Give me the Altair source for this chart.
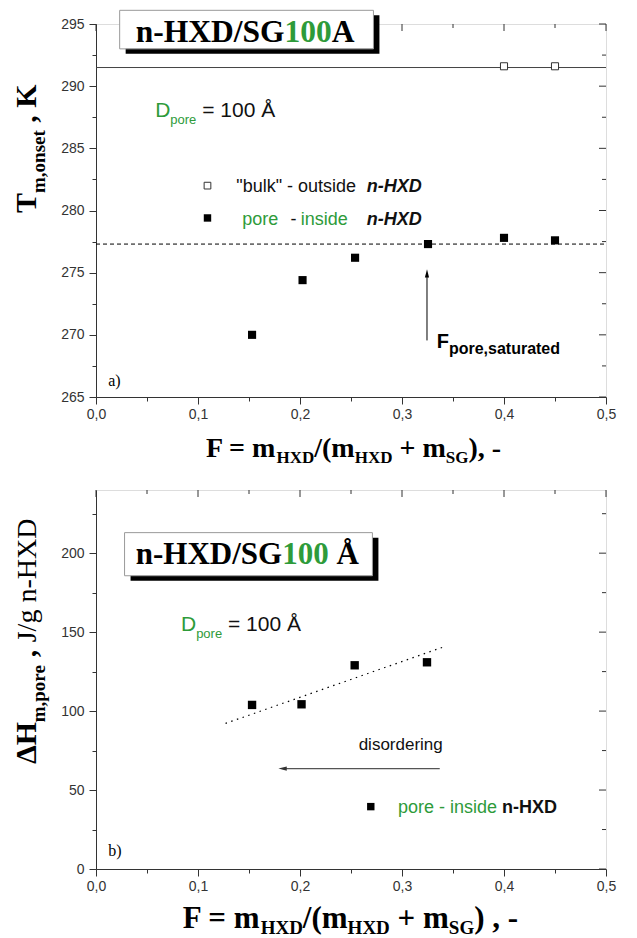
import altair as alt
import pandas as pd

# ---------------- data ----------------
# panel a) : melting-onset temperature vs filling fraction F
a_pore_F = [0.153, 0.2025, 0.254, 0.3255, 0.400, 0.450]
a_pore_T = [270.0, 274.4, 276.2, 277.3, 277.8, 277.6]
a_bulk_F = [0.400, 0.450]
a_bulk_T = [291.6, 291.6]
a_bulk_level = 291.5
a_sat_level = 277.3
a_sat_F = 0.3245
a_arrow_T = [269.55, 275.27]

# panel b) : melting enthalpy in pores vs filling fraction F
b_pore_F = [0.153, 0.2015, 0.2536, 0.3245]
b_pore_H = [103.9, 104.3, 129.0, 130.9]
b_trend_F = [0.127, 0.342]
b_trend_H = [92.2, 140.9]
b_arrow_F = [0.337, 0.179]
b_arrow_H = 63.6

# axes
x_major = [0.0, 0.1, 0.2, 0.3, 0.4, 0.5]
x_minor = [0.05, 0.15, 0.25, 0.35, 0.45]
a_y_major = [265, 270, 275, 280, 285, 290, 295]
a_y_minor = [267.5, 272.5, 277.5, 282.5, 287.5, 292.5]
b_y_major = [0, 50, 100, 150, 200]
b_y_minor = [25, 75, 125, 175, 225]
x_domain = [0, 0.5]
a_domain = [265, 295]
b_domain = [0, 240]

# ---------------- styling ----------------
SERIF = "Liberation Serif"
SANS = "Liberation Sans"
GREEN = "#2e9b3a"
INK = "#111111"
AXC = "#333333"
W, HA, HB = 510, 373, 379

TB = {' ': 250, '!': 333, '(': 333, ')': 333, '+': 570, ',': 250, '-': 333, '/': 278,
      '0': 500, '1': 500, '=': 570, 'A': 722, 'D': 722, 'F': 611, 'G': 778, 'H': 778,
      'J': 500, 'K': 778, 'S': 556, 'T': 667, 'X': 722, 'a': 500, 'd': 556, 'e': 444,
      'g': 500, 'm': 833, 'n': 556, 'o': 500, 'p': 556, 'r': 444, 's': 389, 't': 333,
      'u': 556, 'Å': 722, 'Δ': 612}
TR = {' ': 250, '/': 278, 'J': 389, 'g': 500, 'n': 500, '-': 333, 'H': 722, 'X': 722,
      'D': 722, 'a': 444, 'b': 500, ')': 333}
AR = {' ': 278, '"': 355, '-': 333, '=': 584, '0': 556, '1': 556, 'D': 722, 'Å': 667,
      'b': 556, 'd': 556, 'e': 556, 'g': 556, 'i': 222, 'k': 500, 'l': 222, 'n': 556,
      'o': 556, 'p': 556, 'r': 333, 's': 500, 't': 278, 'u': 556}
AB = {' ': 278, ',': 278, '-': 333, 'D': 722, 'F': 611, 'H': 722, 'X': 667, 'a': 556,
      'd': 611, 'e': 556, 'n': 611, 'o': 611, 'p': 611, 'r': 389, 's': 556, 't': 333,
      'u': 611}
FAM = {"TB": (SERIF, "bold", "normal", TB), "TR": (SERIF, "normal", "normal", TR),
       "AR": (SANS, "normal", "normal", AR), "AB": (SANS, "bold", "normal", AB),
       "ABI": (SANS, "bold", "italic", AB)}


def twidth(s, fam, size):
    tab = FAM[fam][3]
    return sum(tab.get(c, 556) for c in s) / 1000.0 * size


def compose(pieces, x, y, angle=0, center=False):
    total = sum(twidth(p[0], p[1], p[2]) for p in pieces)
    pos = -total / 2 if center else 0.0
    rows = []
    for p in pieces:
        t, fam, size = p[0], p[1], p[2]
        color = p[3] if len(p) > 3 else INK
        dy = p[4] if len(p) > 4 else 0
        lead = len(t) - len(t.lstrip(' '))
        s = t.strip(' ')
        off = pos + twidth(' ' * lead, fam, size)
        if s:
            font, weight, style, _ = FAM[fam]
            rows.append(dict(x=x, y=y, text=s, dx=off, dy=dy, font=font, size=size,
                             weight=weight, style=style, color=color, angle=angle))
        pos += twidth(t, fam, size)
    return rows


def x_enc():
    vals = sorted(x_major + x_minor)
    test = "indexof(%s, datum.value) >= 0" % str(x_major)
    return alt.X("x:Q", scale=alt.Scale(domain=x_domain, nice=False, zero=False),
                 axis=alt.Axis(values=vals, title=None, grid=False, labelFlush=False,
                               labelOverlap=False,
                               labelExpr="%s ? replace(format(datum.value, '.1f'), '.', ',') : ''" % test,
                               tickSize={"condition": {"test": test, "value": 7}, "value": 4},
                               labelFont=SANS, labelFontSize=14, labelColor=AXC,
                               tickColor=AXC, domainColor=AXC, labelPadding=3))


def y_enc(domain, major, minor):
    vals = sorted(major + minor)
    test = "indexof(%s, datum.value) >= 0" % str(major)
    return alt.Y("y:Q", scale=alt.Scale(domain=domain, nice=False, zero=False),
                 axis=alt.Axis(values=vals, title=None, grid=False, labelOverlap=False,
                               labelExpr="%s ? format(datum.value, 'd') : ''" % test,
                               tickSize={"condition": {"test": test, "value": 7}, "value": 4},
                               labelFont=SANS, labelFontSize=14, labelColor=AXC,
                               tickColor=AXC, domainColor=AXC, labelPadding=5))


def text_layer(rows, X, Y):
    return alt.Chart(pd.DataFrame(rows)).mark_text(
        align="left", baseline="alphabetic",
        dx=alt.ExprRef(expr="datum.dx"), dy=alt.ExprRef(expr="datum.dy"),
        font=alt.ExprRef(expr="datum.font"), fontSize=alt.ExprRef(expr="datum.size"),
        fontWeight=alt.ExprRef(expr="datum.weight"), fontStyle=alt.ExprRef(expr="datum.style"),
        angle=alt.ExprRef(expr="datum.angle")
    ).encode(x=X, y=Y, text="text:N", color=alt.Color("color:N", scale=None))


def mirror_ticks(X, Y, ymajor, yminor):
    top_maj = alt.Chart(pd.DataFrame({"x": x_major})).mark_rule(color=AXC).encode(
        x=X, y=alt.value(0), y2=alt.value(7))
    top_min = alt.Chart(pd.DataFrame({"x": x_minor})).mark_rule(color=AXC).encode(
        x=X, y=alt.value(0), y2=alt.value(4))
    r_maj = alt.Chart(pd.DataFrame({"y": ymajor})).mark_rule(color=AXC).encode(
        y=Y, x=alt.value(W), x2=alt.value(W - 7))
    r_min = alt.Chart(pd.DataFrame({"y": yminor})).mark_rule(color=AXC).encode(
        y=Y, x=alt.value(W), x2=alt.value(W - 4))
    return [top_maj, top_min, r_maj, r_min]


def title_box(x1, x2, y1, y2, X, Y):
    df = pd.DataFrame({"x": [x1], "x2": [x2], "y": [y1], "y2": [y2]})
    shadow = alt.Chart(df).mark_rect(color="#000", xOffset=6, x2Offset=6, yOffset=5, y2Offset=5).encode(
        x=X, x2="x2:Q", y=Y, y2="y2:Q")
    box = alt.Chart(df).mark_rect(fill="white", stroke="#9a9a9a", strokeWidth=1).encode(
        x=X, x2="x2:Q", y=Y, y2="y2:Q")
    return [shadow, box]


ARROW_UP = "M0,-1L-0.5,1L0.5,1Z"
ARROW_LEFT = "M-1,0L1,-0.5L1,0.5Z"

# ================= panel a =================
XA = x_enc()
YA = y_enc(a_domain, a_y_major, a_y_minor)

lines_a = alt.Chart(pd.DataFrame({"x": [0.0], "x2": [0.5], "y": [a_bulk_level]})).mark_rule(
    color="#444", strokeWidth=1).encode(x=XA, x2="x2:Q", y=YA)
dash_a = alt.Chart(pd.DataFrame({"x": [0.0], "x2": [0.5], "y": [a_sat_level]})).mark_rule(
    color="#000", strokeWidth=1, strokeDash=[4, 3]).encode(x=XA, x2="x2:Q", y=YA)
bulk_pts = alt.Chart(pd.DataFrame({"x": a_bulk_F, "y": a_bulk_T})).mark_point(
    shape="square", filled=True, fill="white", stroke="#333", strokeWidth=1, size=50, opacity=1).encode(x=XA, y=YA)
pore_pts_a = alt.Chart(pd.DataFrame({"x": a_pore_F, "y": a_pore_T})).mark_point(
    shape="square", filled=True, color="#000", size=66, opacity=1).encode(x=XA, y=YA)
arrow_a = alt.Chart(pd.DataFrame({"x": [a_sat_F], "y": [a_arrow_T[0]], "y2": [a_arrow_T[1] - 0.3]})).mark_rule(
    color="#000", strokeWidth=1).encode(x=XA, y=YA, y2="y2:Q")
head_a = alt.Chart(pd.DataFrame({"x": [a_sat_F], "y": [a_arrow_T[1]]})).mark_point(
    shape=ARROW_UP, filled=True, color="#000", size=70, opacity=1, yOffset=4).encode(x=XA, y=YA)
leg_a = alt.Chart(pd.DataFrame({"x": [0.1093], "y": [282.0]})).mark_point(
    shape="square", filled=True, fill="white", stroke="#333", strokeWidth=1, size=45, opacity=1).encode(x=XA, y=YA)
leg_a2 = alt.Chart(pd.DataFrame({"x": [0.1093], "y": [279.4]})).mark_point(
    shape="square", filled=True, color="#000", size=55, opacity=1).encode(x=XA, y=YA)

texts_a = []
texts_a += compose([("n-HXD/SG", "TB", 31.5, "#000"), ("100", "TB", 31.5, GREEN), ("A", "TB", 31.5, "#000")], 0.039, 293.55)
texts_a += compose([("D", "AR", 21, GREEN), ("pore", "AR", 13, GREEN, 7), (" = 100 Å", "AR", 21, INK)], 0.058, 287.5)
texts_a += compose([('"bulk" - outside', "AR", 18, INK)], 0.1375, 281.5)
texts_a += compose([("n-HXD", "ABI", 18, INK)], 0.2654, 281.5)
texts_a += compose([("pore", "AR", 18, GREEN)], 0.1434, 278.86)
texts_a += compose([("-", "AR", 18, INK)], 0.1907, 278.86)
texts_a += compose([("inside", "AR", 18, GREEN)], 0.2008, 278.86)
texts_a += compose([("n-HXD", "ABI", 18, INK)], 0.2654, 278.86)
texts_a += compose([("F", "AB", 20, "#000"), ("pore,saturated", "AB", 16, "#000", 6)], 0.334, 268.97)
texts_a += compose([("a)", "TR", 16, "#000")], 0.012, 265.9)
texts_a += compose([("T", "TB", 30, "#000"), ("m,onset", "TB", 19, "#000", 9), (" , ", "TB", 30, "#000"),
                    ("K", "TB", 30, "#000")], -0.0588, 279.8, angle=270)
texts_a += compose([("F = m", "TB", 28, "#000"), ("HXD", "TB", 17, "#000", 6), ("/(m", "TB", 28, "#000"),
                    ("HXD", "TB", 17, "#000", 6), (" + m", "TB", 28, "#000"), ("SG", "TB", 17, "#000", 6),
                    ("), -", "TB", 28, "#000")], 0.2525, 260.2, center=True)

panel_a = alt.layer(
    *mirror_ticks(XA, YA, a_y_major, a_y_minor),
    *title_box(0.0232, 0.272, 296.1, 293.0, XA, YA),
    lines_a, dash_a, bulk_pts, pore_pts_a, arrow_a, head_a, leg_a, leg_a2,
    text_layer(texts_a, XA, YA)
).properties(width=W, height=HA)

# ================= panel b =================
XB = x_enc()
YB = y_enc(b_domain, b_y_major, b_y_minor)

trend_b = alt.Chart(pd.DataFrame({"x": [b_trend_F[0]], "x2": [b_trend_F[1]],
                                  "y": [b_trend_H[0]], "y2": [b_trend_H[1]]})).mark_rule(
    color="#000", strokeWidth=1.2, strokeDash=[1.5, 4.5]).encode(x=XB, x2="x2:Q", y=YB, y2="y2:Q")
pore_pts_b = alt.Chart(pd.DataFrame({"x": b_pore_F, "y": b_pore_H})).mark_point(
    shape="square", filled=True, color="#000", size=70, opacity=1).encode(x=XB, y=YB)
arrow_b = alt.Chart(pd.DataFrame({"x": [b_arrow_F[0]], "x2": [b_arrow_F[1] + 0.004], "y": [b_arrow_H]})).mark_rule(
    color="#555", strokeWidth=1.2).encode(x=XB, x2="x2:Q", y=YB)
head_b = alt.Chart(pd.DataFrame({"x": [b_arrow_F[1]], "y": [b_arrow_H]})).mark_point(
    shape=ARROW_LEFT, filled=True, color="#333", size=70, opacity=1, xOffset=4).encode(x=XB, y=YB)
leg_b = alt.Chart(pd.DataFrame({"x": [0.2694], "y": [39.5]})).mark_point(
    shape="square", filled=True, color="#000", size=55, opacity=1).encode(x=XB, y=YB)

texts_b = []
texts_b += compose([("n-HXD/SG", "TB", 31, "#000"), ("100", "TB", 31, GREEN), (" Å", "TB", 31, "#000")], 0.039, 193.1)
texts_b += compose([("D", "AR", 21, GREEN), ("pore", "AR", 13, GREEN, 7), (" = 100 Å", "AR", 21, INK)], 0.0833, 150.6)
texts_b += compose([("disordering", "AR", 17, INK)], 0.2575, 75.5)
texts_b += compose([("pore - inside ", "AR", 18, GREEN), ("n-HXD", "AB", 18, INK)], 0.296, 35.5)
texts_b += compose([("b)", "TR", 16, "#000")], 0.012, 8.0)
texts_b += compose([("ΔH", "TB", 30, "#000"), ("m,pore", "TB", 19, "#000", 9), (" , ", "TB", 30, "#000"),
                    ("J/g n-HXD", "TR", 28, "#000")], -0.0588, 66.5, angle=270)
texts_b += compose([("F = m", "TB", 31, "#000"), ("HXD", "TB", 19, "#000", 6), ("/(m", "TB", 31, "#000"),
                    ("HXD", "TB", 19, "#000", 6), (" + m", "TB", 31, "#000"), ("SG", "TB", 19, "#000", 6),
                    (") , -", "TB", 31, "#000")], 0.2494, -37.4, center=True)

panel_b = alt.layer(
    *mirror_ticks(XB, YB, b_y_major, b_y_minor),
    *title_box(0.028, 0.271, 213.0, 185.7, XB, YB),
    trend_b, pore_pts_b, arrow_b, head_b, leg_b,
    text_layer(texts_b, XB, YB)
).properties(width=W, height=HB)

chart = alt.vconcat(panel_a, panel_b, spacing=93, bounds="flush").properties(
    padding={"left": 11, "top": 9, "right": 5, "bottom": 0}
).configure_view(stroke=AXC, strokeWidth=1).configure(background="white")

chart.save("out.html", embed_options={"renderer": "svg", "actions": False})
